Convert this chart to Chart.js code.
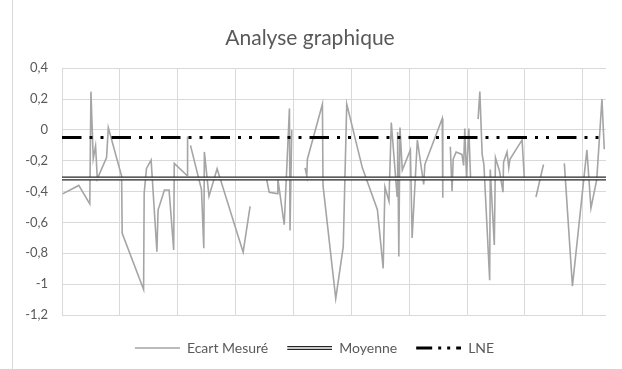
<!DOCTYPE html>
<html>
<head>
<meta charset="utf-8">
<script src="https://cdn.jsdelivr.net/npm/chart.js@4.4.1/dist/chart.umd.min.js"></script>
<style>
  html, body { margin: 0; padding: 0; background: #fff; }
  #wrap { width: 622px; height: 369px; }
</style>
</head>
<body>
<div id="wrap"><canvas id="chart" width="622" height="369"></canvas></div>
<script>
// measurement index (x) and measured deviation (y); null = no measure
const ecartX = [
  0.1, 2.9, 4.8, 5.0, 5.4, 5.8, 6.1, 7.7, 8.0, 10.3,
  10.4, 14.1, 14.2, 14.6, 15.4, 16.4, 16.6, 17.7, 18.5, 19.3,
  19.4, 21.6, 21.7, 22.0, 22.2, 24.1, 24.5, 24.6, 25.4, 26.8,
  31.3, 32.5, 34.0, 35.3, 35.8, 37.2, 37.3, 38.4, 39.3, 39.4,
  39.7, 41.0, 42.0, 42.3, 42.4, 45.0, 45.1, 47.3, 48.6, 49.2,
  51.9, 54.5, 55.5, 55.8, 56.5, 56.9, 57.9, 58.0, 58.2, 58.4,
  58.8, 60.2, 60.5, 61.4, 62.5, 62.7, 65.7, 65.8, 66.5, 67.1,
  67.4, 67.6, 68.1, 69.1, 69.4, 69.6, 69.9, 70.3, 70.6, 71.3,
  71.9, 72.2, 72.6, 72.9, 73.9, 74.0, 74.7, 74.9, 75.6, 76.2,
  76.3, 76.9, 77.2, 77.4, 79.5, 79.9, 81.0, 81.9, 83.2, 85.0,
  86.8, 88.2, 90.7, 91.4, 92.4, 93.3, 93.7
];
const ecartY = [
  -0.415, -0.36, -0.48, 0.248, -0.187, -0.104, -0.317, -0.18, 0.015, -0.30,
  -0.67, -1.035, -0.41, -0.25, -0.196, -0.79, -0.52, -0.39, -0.39, -0.778,
  -0.217, -0.296, -0.043, null, -0.1, -0.387, -0.767, -0.143, -0.43, -0.252,
  -0.793, -0.496, null, -0.31, -0.404, -0.413, -0.317, -0.615, 0.139, -0.652,
  0, null, -0.246, -0.30, -0.19, 0.167, -0.36, -1.093, -0.757, 0.167,
  -0.246, -0.517, -0.898, -0.37, -0.463, 0.048, -0.43, -0.013, -0.82, 0.015,
  -0.26, -0.13, -0.70, -0.065, -0.354, -0.224, 0.074, -0.44, null, -0.109,
  -0.398, -0.19, -0.143, -0.159, -0.23, 0.009, -0.31, 0.009, -0.317, null,
  0.07, 0.248, -0.159, -0.224, -0.974, -0.257, -0.746, -0.18, -0.267, -0.404,
  -0.209, -0.143, -0.246, -0.19, -0.065, -0.322, null, -0.435, -0.224, null,
  -0.217, -1.013, -0.13, -0.507, -0.322, 0.2, -0.126
];
const moyenne = -0.315;
const lne = -0.05;
const xMax = 94;
const xGrid = [0, 10, 20, 30, 40, 50, 60, 70, 80, 90];
const yTicks = [0.4, 0.2, 0, -0.2, -0.4, -0.6, -0.8, -1, -1.2];

const GREY = '#a5a5a5';
const TEXT = '#595959';
const GRID = '#d9d9d9';
const FONT = 'Lato, "Open Sans", sans-serif';
const lneDash = [19.5, 8, 3, 8, 3, 8];

// small pictures for the legend keys
const legendKey = (draw) => {
  const c = document.createElement('canvas');
  c.width = 54;
  c.height = 8;
  draw(c.getContext('2d'));
  return c;
};
const keyLine = (g, color, width, dash) => {
  g.strokeStyle = color;
  g.lineWidth = width;
  g.setLineDash(dash || []);
  g.beginPath();
  g.moveTo(9, 4);
  g.lineTo(54, 4);
  g.stroke();
};
const ecartKey = legendKey(g => keyLine(g, GREY, 1.6));
const moyKey = legendKey(g => { keyLine(g, '#262626', 4); keyLine(g, '#fff', 1.4); });
const lneKey = legendKey(g => keyLine(g, '#000', 3, [16, 6, 3, 6, 3, 6]));

const ecartPoints = ecartX.map((x, i) => ({ x: x, y: ecartY[i] }));
const flat = v => [{ x: 0, y: v }, { x: xMax, y: v }];

const leftFrame = {
  id: 'leftFrame',
  beforeDraw(chart) {
    const ctx = chart.ctx;
    ctx.save();
    ctx.strokeStyle = GRID;
    ctx.lineWidth = 1;
    ctx.beginPath();
    ctx.moveTo(12.5, 0);
    ctx.lineTo(12.5, chart.height);
    ctx.stroke();
    ctx.restore();
  }
};

new Chart(document.getElementById('chart'), {
  type: 'line',
  data: {
    datasets: [
      {
        label: 'Ecart Mesuré',
        data: ecartPoints,
        borderColor: GREY,
        borderWidth: 1.6,
        pointRadius: 0,
        pointStyle: ecartKey,
        spanGaps: false,
        order: 3
      },
      {
        label: 'Moyenne',
        data: flat(moyenne),
        borderColor: '#262626',
        borderWidth: 4,
        pointRadius: 0,
        pointStyle: moyKey,
        order: 2
      },
      {
        label: 'LNE',
        data: flat(lne),
        borderColor: '#000',
        borderWidth: 3,
        borderDash: lneDash,
        borderCapStyle: 'butt',
        pointRadius: 0,
        pointStyle: lneKey,
        order: 0
      },
      {
        label: 'inner',
        data: flat(moyenne),
        borderColor: '#fff',
        borderWidth: 1.4,
        pointRadius: 0,
        order: 1
      }
    ]
  },
  options: {
    responsive: false,
    animation: false,
    devicePixelRatio: 1,
    layout: { padding: { left: 14, right: 16, top: 0, bottom: 4 } },
    scales: {
      x: {
        type: 'linear',
        min: 0,
        max: xMax,
        afterBuildTicks: s => { s.ticks = xGrid.map(v => ({ value: v })); },
        afterFit: s => { s.height = 16; },
        ticks: { display: false },
        grid: { color: GRID, drawTicks: false },
        border: { display: false }
      },
      y: {
        min: -1.2,
        max: 0.4,
        afterBuildTicks: s => { s.ticks = yTicks.map(v => ({ value: v })); },
        afterFit: s => { s.width = 48; },
        ticks: {
          color: TEXT,
          padding: 14,
          font: { family: FONT, size: 13 },
          callback: v => String(Number(v.toFixed(1))).replace('.', ',')
        },
        grid: { color: GRID, drawTicks: false },
        border: { display: false }
      }
    },
    plugins: {
      title: {
        display: true,
        text: 'Analyse graphique',
        color: TEXT,
        font: { family: FONT, size: 21, weight: 'normal' },
        padding: { top: 26, bottom: 17 }
      },
      legend: {
        position: 'bottom',
        labels: {
          color: TEXT,
          font: { family: FONT, size: 14 },
          usePointStyle: true,
          pointStyleWidth: 54,
          padding: 10,
          filter: item => item.text !== 'inner',
          sort: (a, b) => a.datasetIndex - b.datasetIndex
        }
      },
      tooltip: { enabled: false }
    }
  },
  plugins: [leftFrame]
});
</script>
</body>
</html>
